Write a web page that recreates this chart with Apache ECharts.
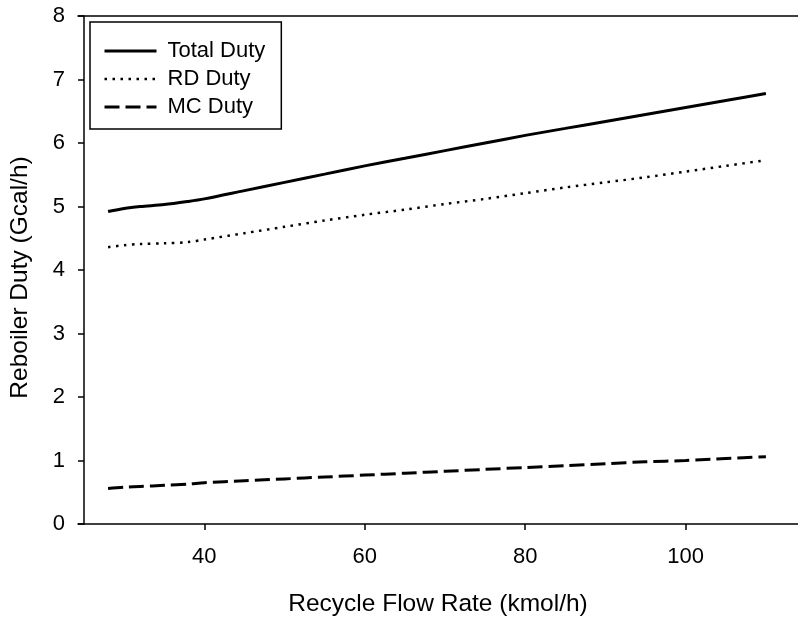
<!DOCTYPE html>
<html>
<head>
    <meta charset="utf-8">
    <title>Reboiler Duty</title>
    <script src="https://cdn.jsdelivr.net/npm/echarts@6/dist/echarts.min.js"></script>
</head>
<body style="margin:0;background:#fff;">
    <div id="main" style="width: 798px;height:619px;"></div>
    <script type="text/javascript">
        // recycle flow rate, kmol/h
        var flow = [28, 30, 32, 35, 38, 40, 45, 50, 55, 60, 65, 70, 75, 80, 85, 90, 95, 100, 105, 110];
        // reboiler duties, Gcal/h
        var totalDuty = [4.92, 4.97, 5.00, 5.03, 5.08, 5.12, 5.25, 5.38, 5.51, 5.64, 5.76, 5.88, 6.00, 6.12, 6.23, 6.34, 6.45, 6.56, 6.67, 6.78];
        var rdDuty = [4.36, 4.39, 4.41, 4.42, 4.44, 4.48, 4.58, 4.68, 4.78, 4.87, 4.95, 5.04, 5.12, 5.21, 5.30, 5.38, 5.46, 5.55, 5.64, 5.73];
        var mcDuty = [0.56, 0.58, 0.59, 0.61, 0.63, 0.65, 0.68, 0.71, 0.74, 0.77, 0.80, 0.83, 0.86, 0.89, 0.92, 0.95, 0.98, 1.00, 1.03, 1.06];
        var xTicks = [40, 60, 80, 100];

        function pairs(ys) {
            var res = [];
            for (var i = 0; i < flow.length; i++) {
                res.push([flow[i], ys[i]]);
            }
            return res;
        }

        var font = '"Liberation Sans", Arial, sans-serif';
        var solid = { color: '#000', width: 3, type: 'solid' };
        var dotted = { color: '#000', width: 2.5, type: [2.5, 5.5] };
        var dashed = { color: '#000', width: 3, type: [15, 6] };

        var myChart = echarts.init(document.getElementById('main'));

        var option = {
            backgroundColor: '#fff',
            animation: false,
            grid: { left: 78, right: 0, top: 16, bottom: 95, outerBoundsMode: 'none' },
            legend: {
                left: 90, top: 22,
                orient: 'vertical',
                itemWidth: 52, itemHeight: 20, itemGap: 6,
                padding: [18, 16, 11, 13],
                borderColor: '#000', borderWidth: 1.5,
                itemStyle: { color: 'transparent', borderWidth: 0, opacity: 0 },
                textStyle: { fontFamily: font, fontSize: 22, color: '#000', padding: [0, 0, 0, 6] },
                data: [
                    { name: 'Total Duty', lineStyle: solid },
                    { name: 'RD Duty', lineStyle: dotted },
                    { name: 'MC Duty', lineStyle: dashed }
                ]
            },
            xAxis: [{
                type: 'value',
                min: 24.25, max: 114,
                name: 'Recycle Flow Rate (kmol/h)',
                nameLocation: 'middle', nameGap: 68,
                nameTextStyle: { fontFamily: font, fontSize: 24.5, color: '#000' },
                axisLine: { lineStyle: { color: '#000', width: 1.5 } },
                axisTick: { show: true, customValues: xTicks, length: 6, lineStyle: { color: '#000', width: 1.5 } },
                axisLabel: { customValues: xTicks, margin: 22, fontFamily: font, fontSize: 22, color: '#000' },
                splitLine: { show: false }
            }, {
                type: 'value', position: 'top',
                min: 24.25, max: 114,
                axisLine: { show: true, lineStyle: { color: '#000', width: 1.5 } },
                axisTick: { show: false }, axisLabel: { show: false }, splitLine: { show: false }
            }],
            yAxis: {
                type: 'value',
                min: 0, max: 8, interval: 1,
                offset: -6,
                name: 'Reboiler Duty (Gcal/h)',
                nameLocation: 'middle', nameGap: 51,
                nameTextStyle: { fontFamily: font, fontSize: 24.5, color: '#000', padding: [0, 15, 0, 0] },
                axisLine: { show: true, lineStyle: { color: '#000', width: 1.5 } },
                axisTick: { show: true, length: 6, lineStyle: { color: '#000', width: 1.5 } },
                axisLabel: { margin: 19, fontFamily: font, fontSize: 22, color: '#000' },
                splitLine: { show: false }
            },
            series: [{
                name: 'Total Duty', type: 'line', smooth: 0.3, symbol: 'none',
                lineStyle: solid,
                itemStyle: { color: '#000' },
                data: pairs(totalDuty)
            }, {
                name: 'RD Duty', type: 'line', smooth: 0.3, symbol: 'none',
                lineStyle: dotted,
                itemStyle: { color: '#000' },
                data: pairs(rdDuty)
            }, {
                name: 'MC Duty', type: 'line', smooth: 0.3, symbol: 'none',
                lineStyle: dashed,
                itemStyle: { color: '#000' },
                data: pairs(mcDuty)
            }]
        };
        myChart.setOption(option);
    </script>
</body>
</html>
